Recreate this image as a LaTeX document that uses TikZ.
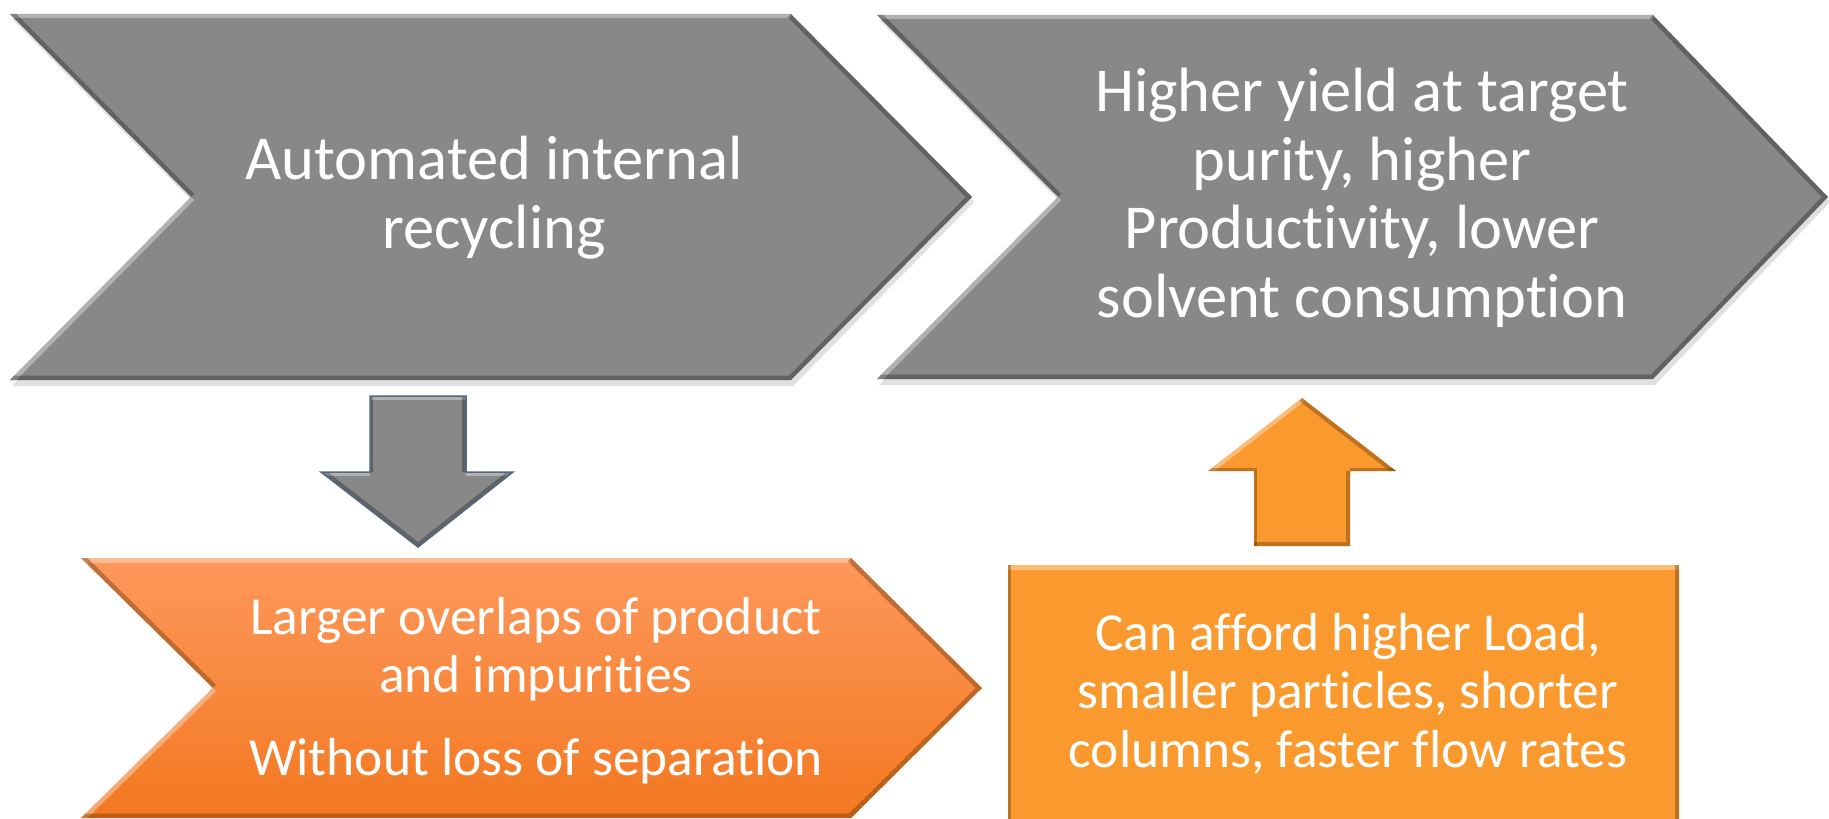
\documentclass[tikz,border=0pt]{standalone}
\usepackage{fontspec}
\setmainfont{Carlito}[Ligatures=NoCommon]
\definecolor{grayfill}{RGB}{136,136,136}
\definecolor{orgtop}{RGB}{253,152,92}
\definecolor{orgbot}{RGB}{243,120,32}
\definecolor{orgbox}{RGB}{250,153,46}
\definecolor{arrowedge}{RGB}{80,105,135}
\definecolor{brownedge}{RGB}{110,60,10}
\tikzset{
  lbl/.style={text=white, align=center, inner sep=0pt, anchor=base},
  bigtxt/.style={font=\fontsize{62.5bp}{68.5bp}\selectfont},
  smalltxt/.style={font=\fontsize{53.5bp}{58.5bp}\selectfont},
  hl/.style={draw=white, line width=9bp, opacity=0.35},
  dk/.style={draw=black, line width=9bp, opacity=0.28},
  dkb/.style={draw=brownedge, line width=9bp, opacity=0.42},
  softshadow/.style={fill=black, opacity=0.12},
}
\begin{document}
\begin{tikzpicture}[x=1bp, y=-1bp]
\useasboundingbox (0,0) rectangle (1829,819);
\clip (0,0) rectangle (1829,819);

% ---------- soft shadows of grey chevrons ----------
\fill[softshadow] (12,19) -- (793,19) -- (974,202) -- (793,386) -- (12,386) -- (193,202) -- cycle;
\fill[softshadow] (879,20) -- (1655,20) -- (1830,202) -- (1655,385) -- (879,385) -- (1060,202) -- cycle;

% ---------- left grey chevron ----------
\path[save path=\chevA] (10,14) -- (791,14) -- (972,197) -- (791,380) -- (10,380) -- (191,197) -- cycle;
\fill[grayfill, use path=\chevA];
\begin{scope}
  \clip[use path=\chevA];
  \draw[hl] (10,14) -- (791,14);
  \draw[hl] (10,380) -- (191,197);
  \draw[dk] (191,197) -- (10,14);
  \draw[dk] (791,14) -- (972,197) -- (791,380) -- (10,380);
\end{scope}
\node[lbl, bigtxt] (auto) at (494,248) {Automated internal\\recycling};

% ---------- right grey chevron ----------
\path[save path=\chevB] (877,15) -- (1653,15) -- (1828,197) -- (1653,379) -- (877,379) -- (1058,197) -- cycle;
\fill[grayfill, use path=\chevB];
\begin{scope}
  \clip[use path=\chevB];
  \draw[hl] (877,15) -- (1653,15);
  \draw[hl] (877,379) -- (1058,197);
  \draw[dk] (1058,197) -- (877,15);
  \draw[dk] (1653,15) -- (1828,197) -- (1653,379) -- (877,379);
\end{scope}
\node[lbl, bigtxt] (yield) at (1362,317) {Higher yield at target\\purity, higher\\Productivity, lower\\solvent consumption};

% ---------- down arrow ----------
\path[save path=\arrD] (370,396) -- (466,396) -- (466,472) -- (513,472) -- (418,547) -- (321,472) -- (370,472) -- cycle;
\fill[grayfill, use path=\arrD];
\begin{scope}
  \clip[use path=\arrD];
  \draw[hl, line width=8bp] (370,396) -- (466,396);
  \draw[hl, line width=8bp] (321,472) -- (370,472);
  \draw[hl, line width=8bp] (466,472) -- (513,472);
  \draw[dk, line width=8bp] (466,396) -- (466,472);
  \draw[dk, line width=8bp] (513,472) -- (418,547) -- (321,472);
  \draw[dk, line width=6bp] (370,472) -- (370,396);
\end{scope}
\draw[arrowedge, line width=1.5bp, use path=\arrD];

% ---------- up arrow ----------
\path[save path=\arrU] (1302,398) -- (1396,471) -- (1350,471) -- (1350,546) -- (1254,546) -- (1254,471) -- (1208,471) -- cycle;
\fill[orgbox, use path=\arrU];
\begin{scope}
  \clip[use path=\arrU];
  \draw[hl, line width=8bp] (1208,471) -- (1302,398);
  \draw[dkb, line width=8bp] (1302,398) -- (1396,471);
  \draw[dkb, line width=8bp] (1350,471) -- (1350,546) -- (1254,546);
  \draw[dkb, line width=6bp] (1254,546) -- (1254,471) -- (1208,471);
  \draw[dkb, line width=6bp] (1396,471) -- (1350,471);
\end{scope}

% ---------- orange chevron ----------
\shade[top color=orgtop, bottom color=orgbot] (81,558) -- (851,558) -- (982,688) -- (851,818) -- (81,818) -- (213,688) -- cycle;
\begin{scope}
  \clip (81,558) -- (851,558) -- (982,688) -- (851,818) -- (81,818) -- (213,688) -- cycle;
  \draw[hl] (81,558) -- (851,558);
  \draw[hl] (81,818) -- (213,688);
  \draw[dkb] (213,688) -- (81,558);
  \draw[dkb] (851,558) -- (982,688) -- (851,818) -- (81,818);
\end{scope}
\node[lbl, smalltxt] (overlap) at (536,775) {Larger overlaps of product\\and impurities\\[24bp]Without loss of separation};

% ---------- orange box ----------
\fill[orgbox] (1008,565) rectangle (1679,830);
\begin{scope}
  \clip (1008,565) rectangle (1679,830);
  \draw[hl] (1008,565) -- (1679,565);
  \draw[dkb, line width=6bp] (1008,565) -- (1008,830);
  \draw[dkb] (1679,565) -- (1679,830);
\end{scope}
\node[lbl, smalltxt] (afford) at (1348,767) {Can afford higher Load,\\smaller particles, shorter\\columns, faster flow rates};

\end{tikzpicture}
\end{document}
